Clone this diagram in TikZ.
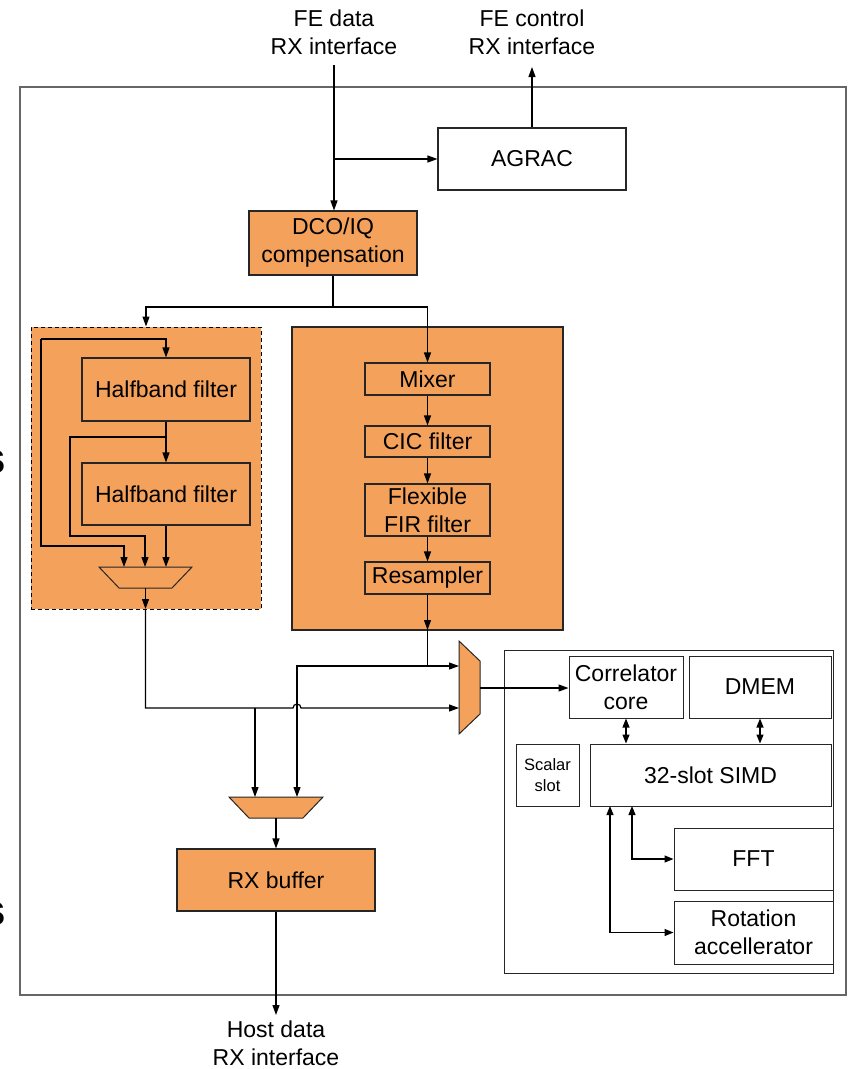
\documentclass[tikz,border=0pt]{standalone}
\usepackage{fontspec}
\setmainfont{Liberation Sans}
\usetikzlibrary{arrows.meta}
\definecolor{orng}{HTML}{F4A15B}
\definecolor{edgec}{HTML}{262626}
\begin{document}
\begin{tikzpicture}[x=1pt,y=-1pt,
  blk/.style={draw=edgec, line width=1.1pt, align=center, inner sep=0pt, font=\fontsize{23}{28}\selectfont},
  ob/.style={blk, fill=orng},
  lbl/.style={align=center, inner sep=0pt, font=\fontsize{23}{28}\selectfont},
  wire/.style={line width=1.2pt, draw=black},
  arr/.style={wire, -{Triangle[length=10pt,width=7pt]}},
  darr/.style={wire, {Triangle[length=9pt,width=7pt]}-{Triangle[length=9pt,width=7pt]}},
  muxs/.style={draw=edgec, line width=1pt, fill=orng},
  bigs/.style={font=\fontsize{44}{50}\selectfont\bfseries, anchor=base east, inner sep=0pt}
]
\useasboundingbox (0,0) rectangle (848,1069);

% cropped glyphs at left edge
\node[bigs] (sa) at (6,473) {s};
\node[bigs] (sb) at (6,925) {s};

% outer frame
\node[draw=black!60, line width=1.4pt, minimum width=826pt, minimum height=908pt, inner sep=0pt] (frame) at (433,541) {};

% labels
\node[lbl] (fedata) at (334,32) {FE data\\RX interface};
\node[lbl] (fectrl) at (532,32) {FE control\\RX interface};
\node[lbl] (host) at (276,1043) {Host data\\RX interface};
\coordinate (fein) at (334,65);
\coordinate (fcout) at (532,67);
\coordinate (hostout) at (276,1015);

% top blocks
\node[blk, minimum width=188pt, minimum height=62pt] (agrac) at (532,159) {AGRAC};
\node[ob, minimum width=168pt, minimum height=64pt] (dco) at (333,243) {DCO/IQ\\compensation};

% halfband region
\node[draw=black, dashed, dash pattern=on 4pt off 3pt, line width=1pt, fill=orng, minimum width=230pt, minimum height=282pt, inner sep=0pt] (hbbox) at (146,468) {};
\node[ob, minimum width=168pt, minimum height=63pt] (hb1) at (166,389.5) {Halfband filter};
\node[ob, minimum width=168pt, minimum height=62pt] (hb2) at (166,494) {Halfband filter};

% mixer region
\node[ob, minimum width=271pt, minimum height=303pt] (bigbox) at (427.5,478.5) {};
\node[ob, minimum width=125pt, minimum height=32pt] (mixer) at (427.5,379) {Mixer};
\node[ob, minimum width=125pt, minimum height=31pt] (cic) at (427.5,441.5) {CIC filter};
\node[ob, minimum width=125pt, minimum height=52pt] (fir) at (427.5,510) {Flexible\\FIR filter};
\node[ob, minimum width=125pt, minimum height=32pt] (resamp) at (427.5,578) {Resampler};

% right processor block
\node[draw=edgec, line width=1pt, minimum width=329pt, minimum height=323pt, inner sep=0pt] (proc) at (668.5,811.5) {};
\node[blk, line width=1pt, minimum width=114pt, minimum height=62pt] (corr) at (626,687) {Correlator\\core};
\node[blk, line width=1pt, minimum width=142pt, minimum height=62pt] (dmem) at (760,687) {DMEM};
\node[blk, line width=1pt, minimum width=63pt, minimum height=62pt, font=\fontsize{16.5}{21}\selectfont] (scalar) at (547.5,775) {Scalar\\slot};
\node[blk, line width=1pt, minimum width=241pt, minimum height=62pt] (simd) at (710.5,775) {32-slot SIMD};
\node[blk, line width=1pt, minimum width=159pt, minimum height=62pt] (fft) at (753.5,859) {FFT};
\node[blk, line width=1pt, minimum width=159pt, minimum height=63pt] (rot) at (753.5,932.5) {Rotation\\accellerator};

% RX buffer
\node[ob, minimum width=198pt, minimum height=62pt] (rxbuf) at (276,880) {RX buffer};

% muxes
\draw[muxs] (99,567) -- (192,567) -- (172,588) -- (119,588) -- cycle;
\draw[muxs] (459,641) -- (480,661) -- (480,714) -- (459,734) -- cycle;
\draw[muxs] (229,797) -- (323,797) -- (303,818) -- (249,818) -- cycle;
\coordinate (m1a) at (124,567);
\coordinate (m1b) at (145,567);
\coordinate (m1c) at (166,567);
\coordinate (m1out) at (145.5,588);
\coordinate (m2a) at (459,666);
\coordinate (m2b) at (459,708);
\coordinate (m2out) at (480,688);
\coordinate (m3a) at (255,797);
\coordinate (m3b) at (297,797);
\coordinate (m3out) at (276,818);

% junction coordinates
\coordinate (split) at (333,307);
\coordinate (l1) at (41,339);
\coordinate (l1b) at (124,546);
\coordinate (t2) at (166,437);
\coordinate (l2) at (70,437);
\coordinate (l2b) at (145,536);
\coordinate (hbout) at (145.5,609);
\coordinate (j0) at (145.5,708);
\coordinate (j1) at (255,708);
\coordinate (hop) at (293,708);
\coordinate (rsout) at (427.5,630);
\coordinate (j2) at (427.5,666);
\coordinate (s1) at (632,806);
\coordinate (s2) at (610,806);

% top wires
\draw[arr] (fein) -- (fein |- dco.north);
\draw[arr] (fein |- agrac.west) -- (agrac.west);
\draw[arr] (agrac.north) -- (fcout);
\draw[wire] (dco.south) -- (split);
\draw[arr] (split) -| (hbbox.north);
\draw[arr] (split) -| (mixer.north);

% halfband wires
\draw[arr] (l1) -| (hb1.north);
\draw[arr] (l1) |- (l1b) -- (m1a);
\draw[arr] (hb1.south) -- (hb2.north);
\draw[arr] (t2) -- (l2) |- (l2b) -- (m1b);
\draw[arr] (hb2.south) -- (m1c);
\draw[arr] (m1out) -- (hbout);

% mixer chain
\draw[arr] (mixer.south) -- (cic.north);
\draw[arr] (cic.south) -- (fir.north);
\draw[arr] (fir.south) -- (resamp.north);
\draw[arr] (resamp.south) -- (rsout);

% routing to muxes
\draw[arr] (hbout) -- (j0) -- (hop) arc[start angle=180, end angle=0, radius=4pt] -- (m2b);
\draw[arr] (j1) -- (m3a);
\draw[arr] (rsout) |- (m2a);
\draw[arr] (j2) -| (m3b);
\draw[arr] (m2out) -- (m2out -| corr.west);
\draw[arr] (m3out) -- (rxbuf.north);
\draw[arr] (rxbuf.south) -- (hostout);

% processor wires
\draw[darr] (corr.south) -- (corr.south |- simd.north);
\draw[darr] (dmem.south) -- (dmem.south |- simd.north);
\draw[darr] (s1) |- (fft.west);
\draw[darr] (s2) |- (rot.west);
\end{tikzpicture}
\end{document}
